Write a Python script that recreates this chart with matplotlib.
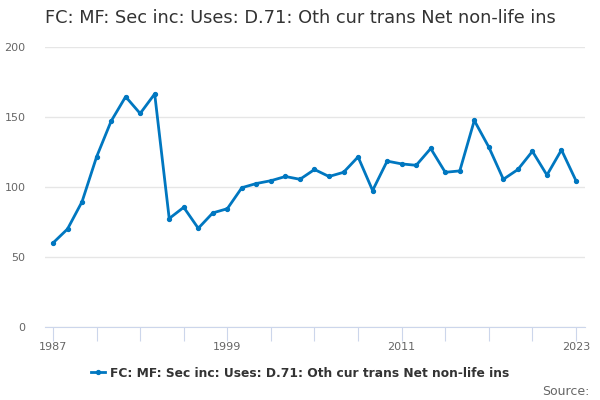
import matplotlib
matplotlib.use("Agg")
import matplotlib.pyplot as plt

years = list(range(1987, 2024))
values = [60, 70, 89.5, 121.5, 147, 164.5, 152.5, 166.5, 77.5, 85.5, 70.5, 81.5,
          84.5, 99.5, 102.5, 104.5, 107.5, 105.5, 112.5, 107.5, 110.5, 121.5, 97.5,
          118.5, 116.5, 115.5, 127.5, 110.5, 111.5, 147.5, 128.5, 105.5, 112.5,
          125.5, 108.5, 126.5, 104.5]
xticks = list(range(1987, 2024, 3))
xlabels = ["1987", "", "", "", "1999", "", "", "", "2011", "", "", "", "2023"]
yticks = [0, 50, 100, 150, 200]

series_name = "FC: MF: Sec inc: Uses: D.71: Oth cur trans Net non-life ins"
line_color = "#0077c0"

fig = plt.figure(figsize=(6, 4), dpi=100)
ax = fig.add_axes([0.075, 0.1825, 0.9, 0.7])

ax.plot(years, values, color=line_color, linewidth=2, marker="o", markersize=2.8,
        label=series_name)

ax.set_xlim(1986.45, 2023.62)
ax.set_ylim(0, 200)
ax.set_yticks(yticks)
ax.set_xticks(xticks)
ax.set_xticklabels(xlabels)

ax.grid(axis="y", color="#e6e6e6", linewidth=1)
ax.set_axisbelow(True)
for s in ["top", "right", "left"]:
    ax.spines[s].set_visible(False)
ax.spines["bottom"].set_color("#ccd6eb")
ax.tick_params(axis="x", length=10, color="#ccd6eb", labelsize=8, labelcolor="#666666", pad=1)
ax.tick_params(axis="y", length=0, labelsize=8, labelcolor="#666666", pad=14)

fig.text(0.075, 0.955, series_name, fontsize=12.75, color="#333333", va="center")

leg = fig.legend(loc="center", bbox_to_anchor=(0.5, 0.067), frameon=False,
                 prop={"size": 8.8, "weight": "bold"}, handlelength=1.2, handletextpad=0.4)
for t in leg.get_texts():
    t.set_color("#333333")

fig.text(0.982, 0.022, "Source:", fontsize=9, color="#666666", ha="right", va="center")

fig.savefig("out.png", dpi=100)
